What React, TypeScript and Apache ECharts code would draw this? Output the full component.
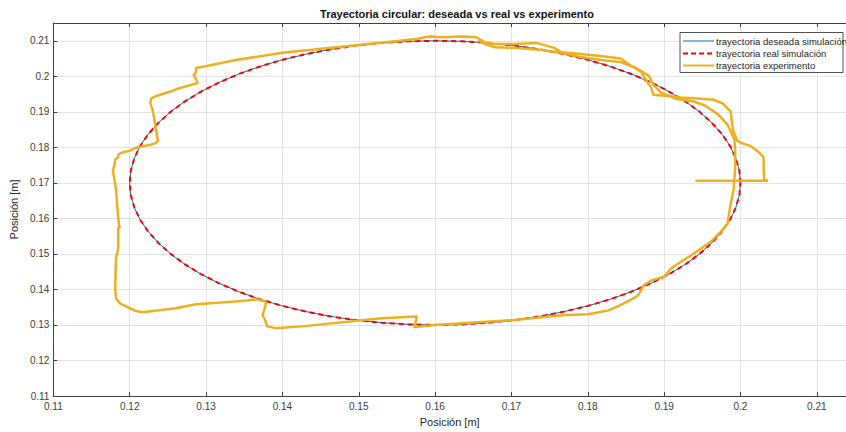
import React, { useEffect, useRef } from "react";
import * as echarts from "echarts";

// Desired circular trajectory (simulation), sampled every 5 degrees
const desiredX = [
  0.20000, 0.19985, 0.19939, 0.19864, 0.19759, 0.19625, 0.19464, 0.19277, 0.19064, 0.18828, 0.18571, 0.18294, 0.18000, 0.17690, 0.17368, 0.17035, 0.16695, 0.16349, 0.16000,
  0.15651, 0.15305, 0.14965, 0.14632, 0.14310, 0.14000, 0.13706, 0.13429, 0.13172, 0.12936, 0.12723, 0.12536, 0.12375, 0.12241, 0.12136, 0.12061, 0.12015, 0.12000,
  0.12015, 0.12061, 0.12136, 0.12241, 0.12375, 0.12536, 0.12723, 0.12936, 0.13172, 0.13429, 0.13706, 0.14000, 0.14310, 0.14632, 0.14965, 0.15305, 0.15651, 0.16000,
  0.16349, 0.16695, 0.17035, 0.17368, 0.17690, 0.18000, 0.18294, 0.18571, 0.18828, 0.19064, 0.19277, 0.19464, 0.19625, 0.19759, 0.19864, 0.19939, 0.19985, 0.20000,
];
const desiredY = [
  0.17000, 0.17349, 0.17695, 0.18035, 0.18368, 0.18690, 0.19000, 0.19294, 0.19571, 0.19828, 0.20064, 0.20277, 0.20464, 0.20625, 0.20759, 0.20864, 0.20939, 0.20985, 0.21000,
  0.20985, 0.20939, 0.20864, 0.20759, 0.20625, 0.20464, 0.20277, 0.20064, 0.19828, 0.19571, 0.19294, 0.19000, 0.18690, 0.18368, 0.18035, 0.17695, 0.17349, 0.17000,
  0.16651, 0.16305, 0.15965, 0.15632, 0.15310, 0.15000, 0.14706, 0.14429, 0.14172, 0.13936, 0.13723, 0.13536, 0.13375, 0.13241, 0.13136, 0.13061, 0.13015, 0.13000,
  0.13015, 0.13061, 0.13136, 0.13241, 0.13375, 0.13536, 0.13723, 0.13936, 0.14172, 0.14429, 0.14706, 0.15000, 0.15310, 0.15632, 0.15965, 0.16305, 0.16651, 0.17000,
];

// Real simulated trajectory (tracks the desired one)
const realX = desiredX;
const realY = desiredY;

// Experimental trajectory
const expX = [
  0.1941, 0.2035, 0.2031, 0.2030, 0.2022, 0.2013, 0.2000, 0.1996, 0.1990, 0.1987, 0.1977, 0.1965, 0.1948, 0.1922, 0.1902, 0.1886,
  0.1883, 0.1876, 0.1870, 0.1857, 0.1843, 0.1817, 0.1791, 0.1765, 0.1756, 0.1733, 0.1704, 0.1678, 0.1665, 0.1654, 0.1635, 0.1609,
  0.1592, 0.1576, 0.1500, 0.1400, 0.1339, 0.1296, 0.1287, 0.1287, 0.1284, 0.1289, 0.1279, 0.1263, 0.1253, 0.1233, 0.1228, 0.1227,
  0.1230, 0.1233, 0.1237, 0.1233, 0.1227, 0.1208, 0.1200, 0.1191, 0.1185, 0.1185, 0.1181, 0.1180, 0.1178, 0.1182, 0.1185, 0.1186,
  0.1187, 0.1185, 0.1185, 0.1182, 0.1181, 0.1182, 0.1187, 0.1195, 0.1207, 0.1217, 0.1260, 0.1287, 0.1339, 0.1367, 0.1378, 0.1378,
  0.1374, 0.1378, 0.1380, 0.1391, 0.1426, 0.1530, 0.1576, 0.1573, 0.1600, 0.1661, 0.1704, 0.1765, 0.1800, 0.1808, 0.1827, 0.1840,
  0.1853, 0.1866, 0.1873, 0.1883, 0.1900, 0.1909, 0.1922, 0.1935, 0.1944, 0.1961, 0.1974, 0.1983, 0.1986, 0.1991, 0.1993, 0.1993,
  0.1992, 0.1983, 0.1971, 0.1954, 0.1939, 0.1915, 0.1896, 0.1886, 0.1880, 0.1863, 0.1843, 0.1817, 0.1791, 0.1765, 0.1739, 0.1704,
  0.1678, 0.1665, 0.1656,
];
const expY = [
  0.1706, 0.1706, 0.1710, 0.1773, 0.1790, 0.1804, 0.1813, 0.1818, 0.1850, 0.1901, 0.1923, 0.1934, 0.1937, 0.1940, 0.1945, 0.1948,
  0.1968, 0.1990, 0.2012, 0.2029, 0.2050, 0.2057, 0.2063, 0.2068, 0.2080, 0.2094, 0.2091, 0.2091, 0.2096, 0.2110, 0.2112, 0.2110,
  0.2112, 0.2105, 0.2088, 0.2066, 0.2046, 0.2027, 0.2024, 0.2012, 0.2004, 0.1981, 0.1975, 0.1965, 0.1957, 0.1943, 0.1937, 0.1923,
  0.1906, 0.1869, 0.1818, 0.1811, 0.1807, 0.1799, 0.1790, 0.1786, 0.1780, 0.1772, 0.1766, 0.1750, 0.1733, 0.1683, 0.1599, 0.1582,
  0.1575, 0.1573, 0.1515, 0.1487, 0.1403, 0.1375, 0.1361, 0.1352, 0.1340, 0.1336, 0.1347, 0.1358, 0.1366, 0.1372, 0.1366, 0.1355,
  0.1328, 0.1311, 0.1296, 0.1291, 0.1296, 0.1319, 0.1324, 0.1294, 0.1300, 0.1308, 0.1314, 0.1327, 0.1330, 0.1333, 0.1341, 0.1353,
  0.1367, 0.1383, 0.1411, 0.1425, 0.1436, 0.1459, 0.1478, 0.1495, 0.1509, 0.1534, 0.1562, 0.1585, 0.1627, 0.1683, 0.1738, 0.1794,
  0.1822, 0.1864, 0.1892, 0.1917, 0.1929, 0.1937, 0.1954, 0.1976, 0.2001, 0.2024, 0.2040, 0.2046, 0.2054, 0.2066, 0.2074, 0.2080,
  0.2082, 0.2091, 0.2102,
];

const seriesNames = [
  "trayectoria deseada simulación",
  "trayectoria real simulación",
  "trayectoria experimento",
];
const titleText = "Trayectoria circular: deseada vs real vs experimento";
const xLabel = "Posición [m]";
const yLabel = "Posición [m]";

const BLUE = "#0072BD";
const RED = "#FF0000";
const ORANGE = "#EDB120";
const AXIS = "#404040";
const FONT = "'Liberation Sans', Arial, Helvetica, sans-serif";

const zip = (xs: number[], ys: number[]) => xs.map((x, i) => [x, ys[i]]);
const fmt = (v: number) => String(parseFloat(v.toFixed(4)));

export default function App() {
  const ref = useRef<HTMLDivElement>(null);
  useEffect(() => {
    if (!ref.current) return;
    const chart = echarts.init(ref.current, undefined, { renderer: "svg" });
    const legendLeft = 680;
    const legendTop = 32.5;
    const rowY = [41, 53.5, 65.5];
    const colors = [BLUE, RED, ORANGE];
    const widths = [1, 2, 2];
    const legendGraphics: any[] = [
      {
        type: "rect",
        shape: { x: legendLeft, y: legendTop, width: 163, height: 40 },
        style: { fill: "#fff", stroke: "#262626", lineWidth: 0.8 },
        z: 100,
      },
    ];
    seriesNames.forEach((n, i) => {
      legendGraphics.push({
        type: "line",
        shape: { x1: 683, y1: rowY[i], x2: 714, y2: rowY[i] },
        style: {
          stroke: colors[i],
          lineWidth: widths[i],
          lineDash: i === 1 ? [5, 3] : undefined,
        },
        z: 101,
      });
      legendGraphics.push({
        type: "text",
        x: 716,
        y: rowY[i],
        style: {
          text: n,
          fill: "#262626",
          font: `9.5px ${FONT}`,
          textVerticalAlign: "middle",
          verticalAlign: "middle",
        },
        z: 101,
      });
    });

    const axisCommon = {
      type: "value" as const,
      splitLine: { show: true, lineStyle: { color: "#e3e3e3", width: 1 } },
      axisLine: { show: true, onZero: false, lineStyle: { color: AXIS, width: 1 } },
      axisTick: { show: true, inside: true, length: 4, lineStyle: { color: AXIS } },
    };

    chart.setOption({
      animation: false,
      backgroundColor: "#fff",
      title: {
        text: titleText,
        left: 452,
        top: 3,
        textAlign: "center",
        textStyle: { fontSize: 11, fontWeight: "bold", color: "#111", fontFamily: FONT },
      },
      grid: { left: 50, right: 0, top: 23, bottom: 34 },
      xAxis: [
        {
          ...axisCommon,
          min: 0.11,
          max: 0.21382,
          interval: 0.01,
          position: "bottom",
          name: xLabel,
          nameLocation: "middle",
          nameGap: 20,
          nameTextStyle: { fontSize: 11, color: "#262626", fontFamily: FONT },
          axisLabel: {
            show: true,
            margin: 5,
            fontSize: 10,
            color: "#404040",
            fontFamily: FONT,
            showMaxLabel: false,
            formatter: fmt,
          },
        },
        {
          ...axisCommon,
          min: 0.11,
          max: 0.21382,
          interval: 0.01,
          position: "top",
          splitLine: { show: false },
          axisLabel: { show: false },
        },
      ],
      yAxis: [
        {
          ...axisCommon,
          min: 0.11,
          max: 0.215,
          interval: 0.01,
          position: "left",
          name: yLabel,
          nameLocation: "middle",
          nameGap: 28,
          nameTextStyle: { fontSize: 11, color: "#262626", fontFamily: FONT },
          axisLabel: {
            show: true,
            margin: 4,
            fontSize: 10,
            color: "#404040",
            fontFamily: FONT,
            showMaxLabel: false,
            formatter: fmt,
          },
        },
      ],
      series: [
        {
          name: seriesNames[0],
          type: "line",
          data: zip(desiredX, desiredY),
          showSymbol: false,
          symbol: "none",
          lineStyle: { color: BLUE, width: 1 },
          z: 2,
        },
        {
          name: seriesNames[1],
          type: "line",
          data: zip(realX, realY),
          showSymbol: false,
          symbol: "none",
          lineStyle: { color: RED, width: 2, type: [5, 4] },
          z: 3,
        },
        {
          name: seriesNames[2],
          type: "line",
          data: zip(expX, expY),
          showSymbol: false,
          symbol: "none",
          lineStyle: { color: ORANGE, width: 2.5, join: "round" },
          z: 4,
        },
      ],
      graphic: legendGraphics,
    });
    return () => chart.dispose();
  }, []);
  return (
    <div
      ref={ref}
      style={{ position: "fixed", left: 0, top: 0, width: 846, height: 432, background: "#fff" }}
    />
  );
}
